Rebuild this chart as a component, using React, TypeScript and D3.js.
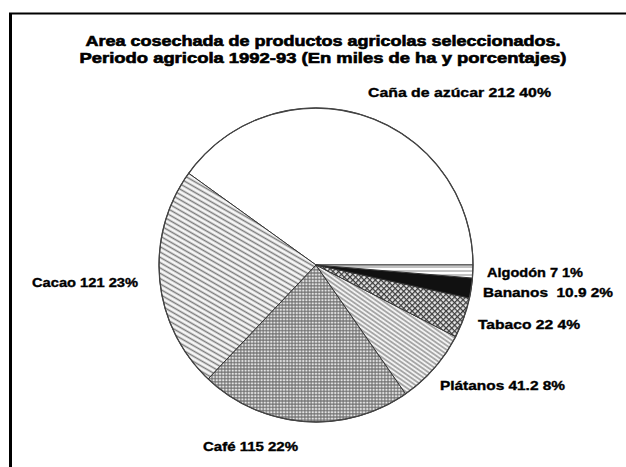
import React from "react";
import * as d3 from "d3";

const titleLines = [
  "Area cosechada de productos agricolas seleccionados.",
  "Periodo agricola 1992-93 (En miles de ha y porcentajes)",
];
const categories = ["Caña de azúcar", "Cacao", "Café", "Plátanos", "Tabaco", "Bananos", "Algodón"];
const values = [212, 121, 115, 41.2, 22, 10.9, 7];
const percents = [40, 23, 22, 8, 4, 2, 1];
const patterns = ["none", "pCacao", "pCafe", "pPlatanos", "pTabaco", "solid", "pAlgodon"];

// label placement (anchor x, baseline y, width)
const labelPos: [number, number, number][] = [
  [368, 97, 183],
  [32, 287, 106],
  [203, 451, 95],
  [440, 390, 125],
  [478, 329, 102],
  [483, 297, 130],
  [487, 277, 96],
];

const W = 626;
const H = 467;
const cx = 316;
const cy = 265;
const R = 157;

export default function App() {
  const pie = d3
    .pie<number>()
    .sort(null)
    .value((d) => d)
    .startAngle(Math.PI / 2)
    .endAngle(Math.PI / 2 - 2 * Math.PI);
  const arcs = pie(values);
  const arc = d3.arc<d3.PieArcDatum<number>>().innerRadius(0).outerRadius(R);

  const fillFor = (p: string) =>
    p === "none" ? "#ffffff" : p === "solid" ? "#111111" : `url(#${p})`;

  const font = "'Liberation Sans', Arial, sans-serif";

  return (
    <svg
      width={W}
      height={H}
      style={{ position: "absolute", left: 0, top: 0, background: "#fff" }}
    >
      <defs>
        <pattern id="pCacao" width="4.6" height="4.6" patternUnits="userSpaceOnUse" patternTransform="rotate(30)">
          <rect width="4.6" height="4.6" fill="#f6f6f6" />
          <line x1="0" y1="2.3" x2="4.6" y2="2.3" stroke="#7a7a7a" strokeWidth="1.5" />
        </pattern>
        <pattern id="pCafe" width="3.2" height="3.2" patternUnits="userSpaceOnUse">
          <rect width="3.2" height="3.2" fill="#e4e4e4" />
          <line x1="0" y1="1.6" x2="3.2" y2="1.6" stroke="#5a5a5a" strokeWidth="1" />
          <line x1="1.6" y1="0" x2="1.6" y2="3.2" stroke="#6a6a6a" strokeWidth="1" />
        </pattern>
        <pattern id="pPlatanos" width="3.6" height="3.6" patternUnits="userSpaceOnUse" patternTransform="rotate(35)">
          <rect width="3.6" height="3.6" fill="#f2f2f2" />
          <line x1="0" y1="1.8" x2="3.6" y2="1.8" stroke="#808080" strokeWidth="1.2" />
        </pattern>
        <pattern id="pTabaco" width="4" height="4" patternUnits="userSpaceOnUse" patternTransform="rotate(45)">
          <rect width="4" height="4" fill="#e8e8e8" />
          <line x1="0" y1="0.5" x2="4" y2="0.5" stroke="#3a3a3a" strokeWidth="1.5" />
          <line x1="0.5" y1="0" x2="0.5" y2="4" stroke="#3a3a3a" strokeWidth="1.5" />
        </pattern>
        <pattern id="pAlgodon" width="5" height="4" patternUnits="userSpaceOnUse">
          <rect width="5" height="4" fill="#ffffff" />
          <line x1="0" y1="2" x2="5" y2="2" stroke="#777" strokeWidth="0.9" />
        </pattern>
      </defs>

      {/* frame */}
      <line x1={10.5} y1={13} x2={10.5} y2={H} stroke="#000" strokeWidth={3} />
      <line x1={9} y1={13.5} x2={W} y2={13.5} stroke="#000" strokeWidth={2} />

      <g transform={`translate(${cx},${cy})`}>
        {arcs.map((a, i) => (
          <path
            key={categories[i]}
            d={arc(a) || ""}
            fill={fillFor(patterns[i])}
            stroke="#333"
            strokeWidth={1}
            strokeLinejoin="round"
          />
        ))}
        <circle r={R} fill="none" stroke="#444" strokeWidth={1.3} />
      </g>

      {/* title */}
      {titleLines.map((t, i) => (
        <text
          key={t}
          x={323}
          y={46 + i * 17}
          textAnchor="middle"
          fontFamily={font}
          fontWeight="bold"
          fontSize={14}
          textLength={i === 0 ? 475 : 487}
          lengthAdjust="spacingAndGlyphs"
          fill="#000"
          stroke="#000"
          strokeWidth={0.6}
        >
          {t}
        </text>
      ))}

      {/* labels */}
      {categories.map((c, i) => {
        const [x, y, w] = labelPos[i];
        const sep = c === "Bananos" ? "  " : " ";
        return (
          <text
            key={c}
            x={x}
            y={y}
            fontFamily={font}
            fontWeight="bold"
            fontSize={12}
            textLength={w}
            lengthAdjust="spacingAndGlyphs"
            fill="#000"
            stroke="#000"
            strokeWidth={0.35}
            style={{ whiteSpace: "pre" }}
          >
            {`${c}${sep}${values[i]} ${percents[i]}%`}
          </text>
        );
      })}
    </svg>
  );
}
